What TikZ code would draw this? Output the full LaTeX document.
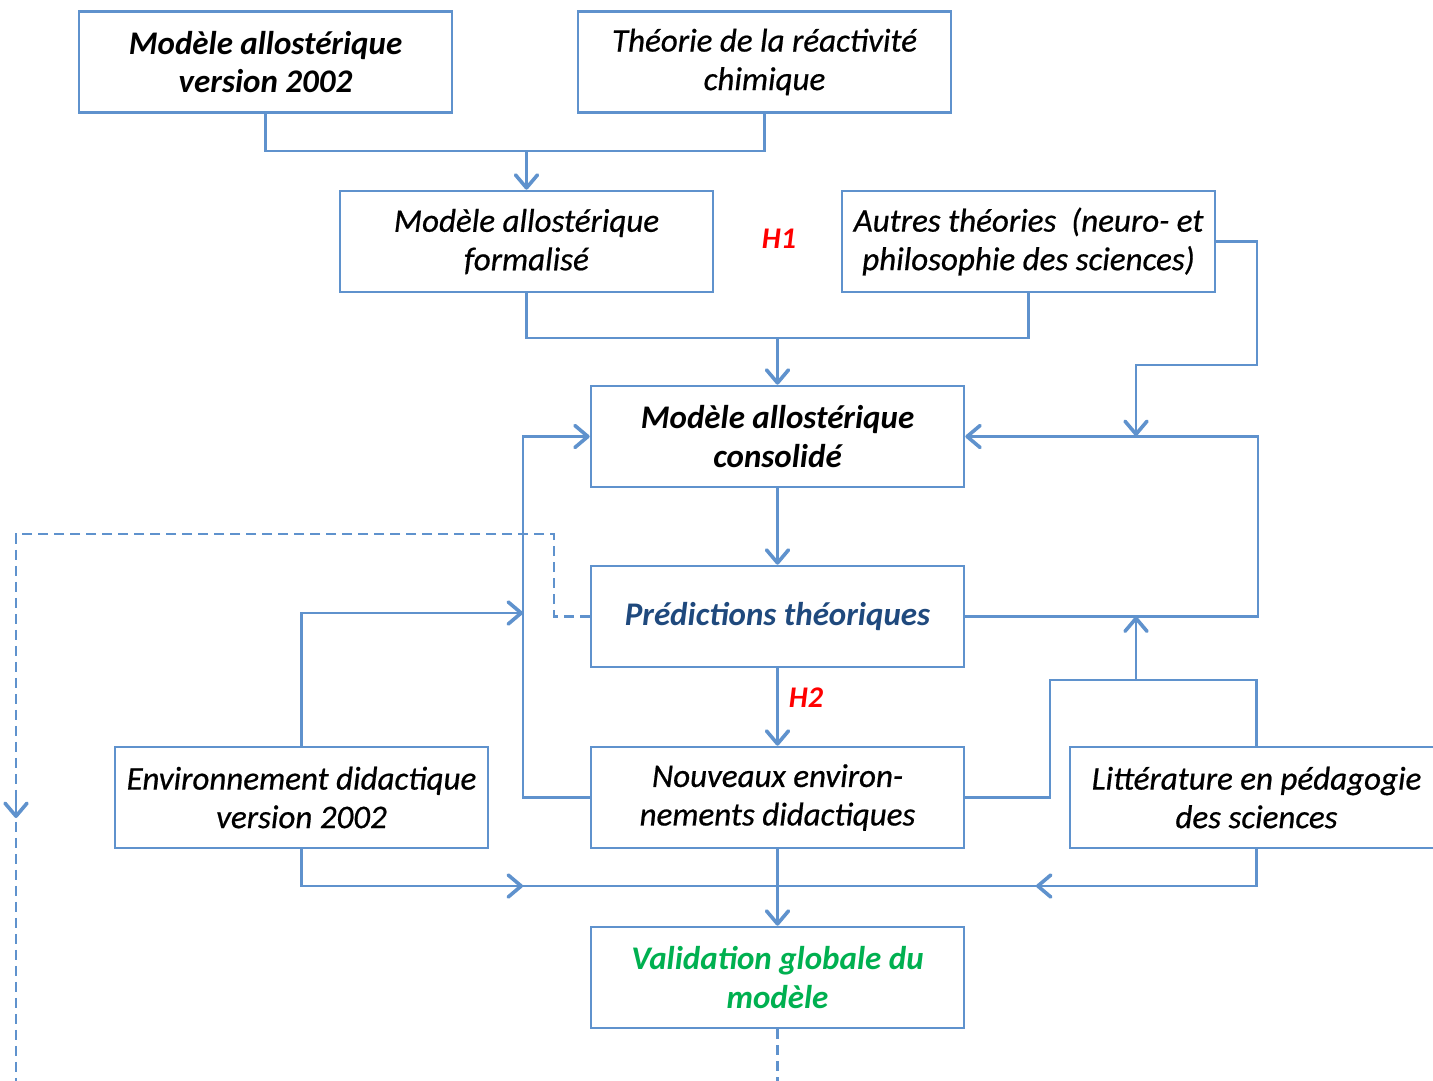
\documentclass[tikz,border=0pt]{standalone}
\usepackage{fontspec}
\setmainfont{Carlito}
\newfontfamily\heavyit[FakeBold=0.6,ItalicFont={Carlito Italic}]{Carlito}
\usetikzlibrary{arrows.meta}
\definecolor{lineblue}{RGB}{95,146,205}
\definecolor{darkblue}{RGB}{31,73,125}
\definecolor{vgreen}{RGB}{0,176,80}
\definecolor{hred}{RGB}{255,0,0}
\begin{document}
\begin{tikzpicture}[x=1pt,y=-1pt,
  box/.style={draw=lineblue, line width=2.6pt, rectangle, minimum width=373pt,
    minimum height=101pt, align=center, inner sep=0pt,
    font=\fontsize{33}{38.5}\selectfont\heavyit\itshape},
  strong/.style={font=\fontsize{33}{38.5}\selectfont\bfseries\itshape},
  link/.style={draw=lineblue, line width=2.6pt},
  arr/.style={link, -{Straight Barb[length=13pt,width=22pt,line width=3.6pt,round]}},
  dashlink/.style={draw=lineblue, line width=2.6pt, dash pattern=on 10pt off 6pt},
  hyp/.style={text=hred, font=\fontsize{30}{34}\selectfont\bfseries\itshape}]
\useasboundingbox (0,0) rectangle (1433,1080);
\clip (0,0) rectangle (1433,1080);

% boxes
\node[box, strong] (A) at (265.5,62) {Modèle allostérique\\version 2002};
\node[box] (B) at (764.5,62) {Théorie de la réactivité\\chimique};
\node[box] (C) at (526.5,241.5) {Modèle allostérique\\formalisé};
\node[box] (D) at (1028.5,241.5) {Autres théories\ \ (neuro- et\\philosophie des sciences)};
\node[box, strong] (E) at (777.5,436.5) {Modèle allostérique\\consolidé};
\node[box, strong, text=darkblue] (F) at (777.5,616.5) {Prédictions théoriques};
\node[box] (G) at (777.5,797.5) {Nouveaux environ-\\nements didactiques};
\node[box] (H) at (301.5,797.5) {Environnement didactique\\version 2002};
\node[box] (I) at (1256.5,797.5) {Littérature en pédagogie\\des sciences};
\node[box, strong, text=vgreen] (J) at (777.5,977.5) {Validation globale du\\modèle};

% hypothesis labels
\node[hyp] (h1) at (779,239) {H1};
\node[hyp] (h2) at (806,698) {H2};

% junction points
\coordinate (j1) at (526.5,151);
\coordinate (j2) at (777.5,338);
\coordinate (j3) at (1136,436);
\coordinate (rx) at (1258,0);
\coordinate (lx) at (523,0);
\coordinate (h9) at (523,613);
\coordinate (k) at (1136,680);
\coordinate (b1) at (523,886);
\coordinate (b2) at (1036,886);
\coordinate (dl) at (16,818);

% top merges
\draw[link] (A.south) |- (j1) -| (B.south);
\draw[arr] (j1) -- (C.north);
\draw[link] (C.south) |- (j2) -| (D.south);
\draw[arr] (j2) -- (E.north);

% other theories into the feedback line
\draw[arr] (D.east) -| (1257,365) -| (j3);

% feedback from predictions to consolidated model
\draw[arr] (F.east) -| (rx |- E.east) -- (E.east);

% main column
\draw[arr] (E.south) -- (F.north);
\draw[arr] (F.south) -- (G.north);
\draw[arr] (G.south) -- (J.north);

% left loop
\draw[arr] (G.west) -| (lx |- E.west) -- (E.west);
\draw[arr] (H.north) |- (h9);

% right loop with the literature
\draw[link] (G.east) -| (1050,680) -| (I.north);
\draw[arr] (k) -- (k |- F.east);

% bottom collector
\draw[link] (H.south) |- (I.south |- b1) -- (I.south);
\draw[arr] (H.south |- b1) -- (b1);
\draw[arr] (I.south |- b2) -- (b2);

% dashed return paths
\draw[dashlink] (F.west) -| (554,534) -| (16,1090);
\draw[arr] (16,800) -- (dl);
\draw[dashlink] (J.south) -- ++(0,70);
\end{tikzpicture}
\end{document}
